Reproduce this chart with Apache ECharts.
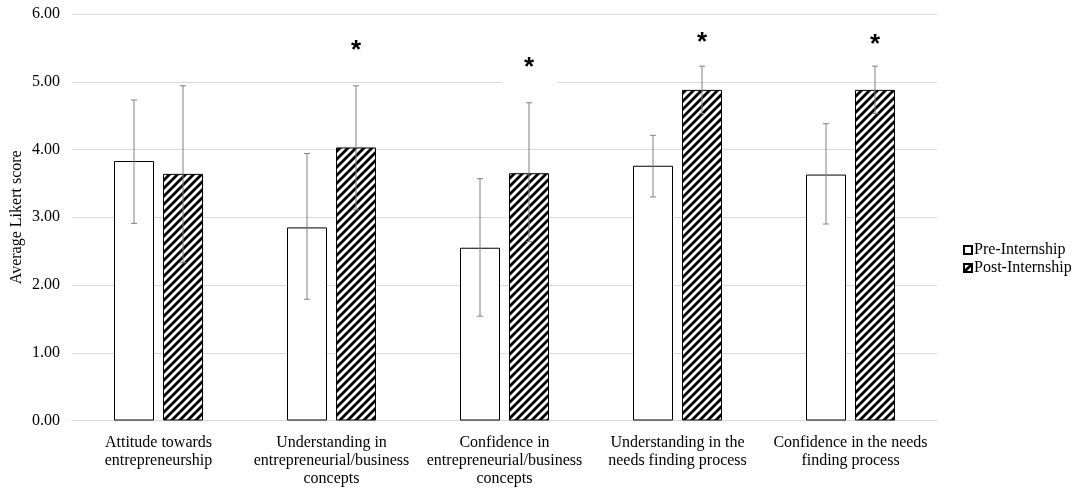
<!DOCTYPE html>
<html>
<head>
<meta charset="utf-8">
<script src="https://cdn.jsdelivr.net/npm/echarts@6/dist/echarts.min.js"></script>
<style>
html,body{margin:0;padding:0;background:#fff;}
#main{width:1075px;height:489px;}
</style>
</head>
<body>
<div id="main"></div>
<script>
// ---- data ----
var categories = [
  'Attitude towards\nentrepreneurship',
  'Understanding in\nentrepreneurial/business\nconcepts',
  'Confidence in\nentrepreneurial/business\nconcepts',
  'Understanding in the\nneeds finding process',
  'Confidence in the needs\nfinding process'
];
var seriesNames = ['Pre-Internship', 'Post-Internship'];
var preValues  = [3.83, 2.85, 2.55, 3.76, 3.63];
var preLow     = [2.91, 1.79, 1.54, 3.30, 2.90];
var preHigh    = [4.73, 3.94, 3.57, 4.21, 4.38];
var postValues = [3.64, 4.03, 3.65, 4.88, 4.88];
var postLow    = [2.33, 3.11, 2.64, 4.53, 4.53];
var postHigh   = [4.94, 4.94, 4.69, 5.23, 5.23];
var significant = [false, true, true, true, true];
var starLevel  = [null, 5.51, 5.27, 5.63, 5.60];
var yTicks = ['0.00','1.00','2.00','3.00','4.00','5.00','6.00'];

// ---- style ----
var BAR_W = 40, BAR_GAP_PX = 9;
var OFFSET = (BAR_W + BAR_GAP_PX) / 2;
var FONT = '"Liberation Serif", "Times New Roman", serif';
var FS = 16;

function makePattern() {
  var c = document.createElement('canvas');
  c.width = 8; c.height = 8;
  var g = c.getContext('2d');
  g.fillStyle = '#fff';
  g.fillRect(0, 0, 8, 8);
  g.strokeStyle = '#000';
  g.lineWidth = 2.8;
  g.lineCap = 'square';
  g.beginPath();
  g.moveTo(-2, 10); g.lineTo(10, -2);
  g.moveTo(-6, 6); g.lineTo(6, -6);
  g.moveTo(2, 14); g.lineTo(14, 2);
  g.stroke();
  return c;
}
var hatch = { image: makePattern(), repeat: 'repeat' };

function errData(lo, hi) {
  return lo.map(function (v, i) { return [i, v, hi[i]]; });
}
function errRender(offset) {
  return function (params, api) {
    var i = api.value(0);
    var lo = api.coord([i, api.value(1)]);
    var hi = api.coord([i, api.value(2)]);
    var x = lo[0] + offset;
    var cap = 3;
    var st = { stroke: '#808080', lineWidth: 1 };
    return {
      type: 'group',
      children: [
        { type: 'line', shape: { x1: x, y1: lo[1], x2: x, y2: hi[1] }, style: st },
        { type: 'line', shape: { x1: x - cap, y1: lo[1], x2: x + cap, y2: lo[1] }, style: st },
        { type: 'line', shape: { x1: x - cap, y1: hi[1], x2: x + cap, y2: hi[1] }, style: st }
      ]
    };
  };
}

var starData = starLevel.map(function (v, i) { return significant[i] ? [i, v] : [i, null]; });

var chart = echarts.init(document.getElementById('main'), null, { renderer: 'canvas' });
chart.setOption({
  animation: false,
  backgroundColor: '#fff',
  textStyle: { fontFamily: FONT },
  grid: { left: 72, right: 138, top: 14, bottom: 68.5, containLabel: false, outerBoundsMode: 'none' },
  legend: {
    orient: 'vertical',
    left: 958,
    top: 237,
    itemWidth: 8,
    itemHeight: 8,
    itemGap: 2,
    icon: 'rect',
    data: seriesNames,
    textStyle: { fontFamily: FONT, fontSize: FS, lineHeight: 16, color: '#000', padding: [0, 0, 0, -3] }
  },
  xAxis: {
    type: 'category',
    data: categories,
    axisLine: { show: true, lineStyle: { color: '#d9d9d9', width: 1 } },
    axisTick: { show: false },
    axisLabel: {
      interval: 0,
      fontFamily: FONT,
      fontSize: FS,
      color: '#000',
      lineHeight: 18,
      margin: 13
    }
  },
  yAxis: {
    type: 'value',
    min: 0,
    max: 6,
    interval: 1,
    name: 'Average Likert score',
    nameLocation: 'middle',
    nameRotate: 90,
    nameGap: 47,
    nameMoveOverlap: false,
    nameTextStyle: { fontFamily: FONT, fontSize: FS, color: '#000' },
    axisLine: { show: false },
    axisTick: { show: false },
    splitLine: { lineStyle: { color: '#d9d9d9', width: 1 } },
    axisLabel: {
      fontFamily: FONT,
      fontSize: FS,
      color: '#000',
      margin: 12,
      formatter: function (v) { return yTicks[Math.round(v)]; }
    }
  },
  series: [
    {
      name: seriesNames[0],
      type: 'bar',
      data: preValues,
      barWidth: BAR_W,
      barGap: (BAR_GAP_PX / BAR_W * 100) + '%',
      itemStyle: { color: '#fff', borderColor: '#000', borderWidth: 1 },
      z: 2
    },
    {
      name: seriesNames[1],
      type: 'bar',
      data: postValues,
      barWidth: BAR_W,
      itemStyle: { color: hatch, borderColor: '#000', borderWidth: 1 },
      z: 2
    },
    {
      type: 'custom',
      name: 'preErr',
      data: errData(preLow, preHigh),
      renderItem: errRender(-OFFSET),
      encode: { x: 0, y: [1, 2] },
      z: 5,
      silent: true
    },
    {
      type: 'custom',
      name: 'postErr',
      data: errData(postLow, postHigh),
      renderItem: errRender(OFFSET),
      encode: { x: 0, y: [1, 2] },
      z: 5,
      silent: true
    },
    {
      type: 'custom',
      name: 'stars',
      data: starData,
      z: 6,
      silent: true,
      renderItem: function (params, api) {
        var v = api.value(1);
        if (v == null || isNaN(v)) return null;
        var p = api.coord([api.value(0), v]);
        var x = p[0] + OFFSET;
        return {
          type: 'group',
          children: [
            { type: 'rect', shape: { x: x - 27, y: p[1] - 18, width: 55, height: 40 }, style: { fill: '#fff' } },
            { type: 'text', x: x, y: p[1] + 4, style: { text: '*', font: 'bold 26px "Liberation Sans", Arial, sans-serif', fill: '#000', align: 'center', verticalAlign: 'middle' } }
          ]
        };
      }
    }
  ]
});
</script>
</body>
</html>
